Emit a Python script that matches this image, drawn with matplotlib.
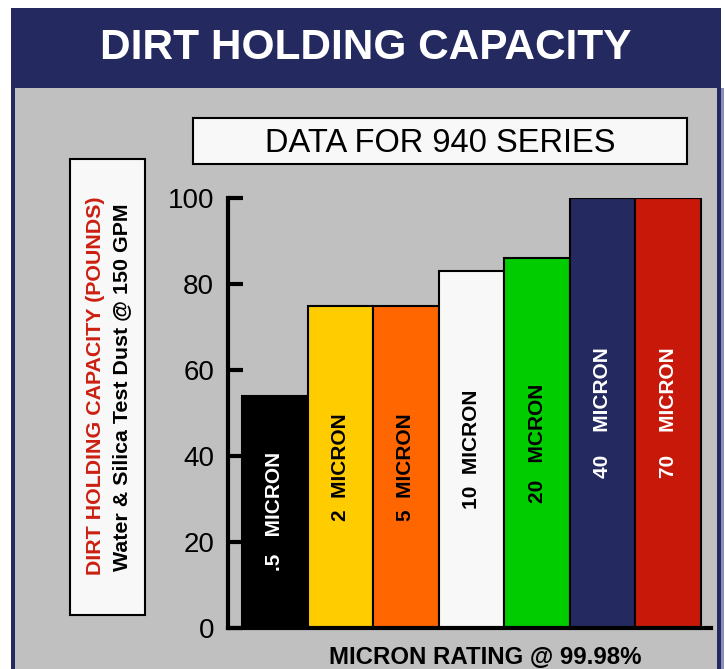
import matplotlib
matplotlib.use('Agg')
import matplotlib.pyplot as plt
from matplotlib.patches import Rectangle

plt.rcParams['font.family'] = ['Liberation Sans', 'DejaVu Sans']

# data
labels = ['.5   MICRON', '2  MICRON', '5  MICRON', '10  MICRON',
          '20   MCRON', '40    MICRON', '70    MICRON']
capacity = [54, 75, 75, 83, 86, 100, 100]
bar_colors = ['#000000', '#ffcc00', '#ff6600', '#f8f8f8',
              '#00cc00', '#242a60', '#c8180a']
text_colors = ['white', 'black', 'black', 'black', 'black', 'white', 'white']
yticks = [0, 20, 40, 60, 80, 100]

W, H = 725, 669
navy = '#242a60'
gray = '#c0c0c0'

fig = plt.figure(figsize=(W / 100, H / 100), dpi=100, facecolor='white')


def px(x0, y0, x1, y1):
    # pixel box (top-left origin) -> figure fraction rect
    return (x0 / W, 1 - y1 / H, (x1 - x0) / W, (y1 - y0) / H)


def box(x0, y0, x1, y1, **kw):
    l, b, w, h = px(x0, y0, x1, y1)
    fig.patches.append(Rectangle((l, b), w, h, transform=fig.transFigure, **kw))


# frame and header
box(11, 8, 721, H, facecolor=navy, edgecolor='none')
box(721, 88, 724, H, facecolor='#8890c0', edgecolor='none')
box(15, 88, 717, H, facecolor=gray, edgecolor='none')
fig.text(366 / W, 1 - 48 / H, 'DIRT HOLDING CAPACITY', color='white',
         fontsize=30.5, fontweight='bold', ha='center', va='center')

# subtitle box
box(193, 118, 687, 164, facecolor='#f8f8f8', edgecolor='black', linewidth=1.5)
fig.text(440 / W, 1 - 144 / H, 'DATA FOR 940 SERIES', color='black',
         fontsize=23.5, ha='center', va='center')

# y label box
box(70, 159, 145, 615, facecolor='#f8f8f8', edgecolor='black', linewidth=1.5)
fig.text(96 / W, 1 - 386 / H, 'DIRT HOLDING CAPACITY (POUNDS)', color='#cc1f10',
         fontsize=15.4, fontweight='bold', rotation=90, ha='center', va='center')
fig.text(122 / W, 1 - 387 / H, 'Water & Silica Test Dust @ 150 GPM', color='black',
         fontsize=15.4, fontweight='bold', rotation=90, ha='center', va='center')

# bar chart
ax = fig.add_axes(px(228, 198, 711, 628))
ax.set_zorder(5)
ax.set_facecolor('none')
x = list(range(len(capacity)))
ax.bar(x, capacity, width=1.0, color=bar_colors, edgecolor='black', linewidth=1.5)
for xi, v, lab, tc in zip(x, capacity, labels, text_colors):
    ax.text(xi, v / 2, lab, rotation=90, ha='center', va='center',
            color=tc, fontsize=15, fontweight='bold')

ax.set_xlim(-0.5 - 14 / 65.6, 6.5 + 10 / 65.6)
ax.set_ylim(0, 100)
ax.set_yticks(yticks)
ax.set_xticks([])
for s in ['top', 'right']:
    ax.spines[s].set_visible(False)
for s in ['left', 'bottom']:
    ax.spines[s].set_linewidth(3)
ax.tick_params(axis='y', direction='in', length=11, width=3, labelsize=20, pad=10)

fig.text(485 / W, 1 - 657 / H, 'MICRON RATING @ 99.98%', color='black',
         fontsize=17.3, fontweight='bold', ha='center', va='center')

fig.savefig('out.png', dpi=100, facecolor=fig.get_facecolor())
